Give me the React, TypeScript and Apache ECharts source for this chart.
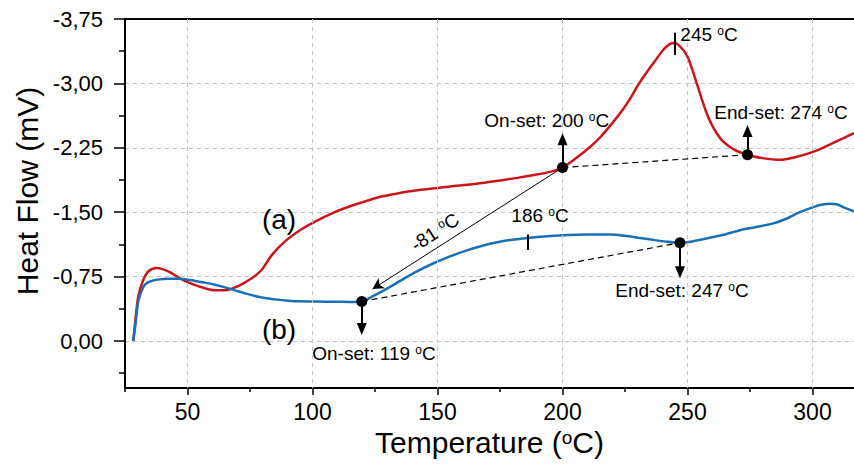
import React, { useEffect, useRef } from "react";
import * as echarts from "echarts";

// ---------- data ----------
const redCurve: [number, number][] = [
  [28.3, 0], [29, -0.2], [30.3, -0.52], [32.3, -0.71], [34.3, -0.81], [37.7, -0.85],
  [42.3, -0.81], [48.3, -0.71], [54.3, -0.64], [61, -0.59], [65, -0.59], [70.3, -0.64],
  [75.7, -0.73], [79.7, -0.83], [83.7, -1.0], [89, -1.16], [95, -1.29], [101, -1.39],
  [108, -1.49], [115, -1.57], [122, -1.635], [128, -1.685], [135, -1.725], [142, -1.755],
  [148, -1.775], [155, -1.8], [162, -1.82], [168, -1.84], [175, -1.87], [182, -1.9],
  [188, -1.93], [195, -1.97], [200, -2.02], [205, -2.12], [211, -2.26], [215, -2.37],
  [220, -2.54], [224, -2.69], [227, -2.82], [230, -2.97], [233.7, -3.13], [237, -3.26],
  [240, -3.38], [243, -3.46], [245, -3.47], [247, -3.43], [249.7, -3.33], [251.7, -3.18],
  [253.7, -3.0], [255.7, -2.82], [257.7, -2.65], [259.7, -2.52], [261.7, -2.42], [264, -2.33],
  [267, -2.26], [270, -2.21], [274, -2.17], [280, -2.13], [287, -2.11], [293, -2.14],
  [300, -2.2], [305, -2.26], [310, -2.33], [316.6, -2.42],
];

const blueCurve: [number, number][] = [
  [28.3, 0], [29.3, -0.22], [30.3, -0.46], [32.3, -0.63], [34, -0.68], [35.7, -0.7],
  [38, -0.715], [42.3, -0.725], [46.3, -0.725], [49, -0.72], [53, -0.7], [57, -0.68],
  [61, -0.655], [65, -0.625], [69, -0.59], [73, -0.555], [77, -0.525], [81, -0.5],
  [85, -0.485], [90.3, -0.47], [95, -0.462], [99.7, -0.46], [105, -0.458], [110, -0.457],
  [115, -0.455], [119.7, -0.46], [124, -0.52], [128, -0.58], [131, -0.63], [135, -0.7],
  [141, -0.8], [148, -0.9], [155, -0.985], [161.7, -1.055], [168, -1.11], [175, -1.155],
  [180, -1.18], [186, -1.2], [194, -1.22], [202, -1.235], [210, -1.24], [219, -1.24],
  [225, -1.225], [231, -1.2], [237, -1.175], [242, -1.155], [247, -1.145], [252, -1.16],
  [257.7, -1.195], [264, -1.235], [271, -1.29], [277, -1.325], [284.3, -1.37], [290, -1.43],
  [294, -1.49], [300.3, -1.56], [304, -1.59], [307, -1.6], [310, -1.59], [312.3, -1.56],
  [316.6, -1.51],
];

const xMajorTicks = [50, 100, 150, 200, 250, 300];
const xMinorTicks = [25, 75, 125, 175, 225, 275];
const yMajorTicks = [-3.75, -3, -2.25, -1.5, -0.75, 0];
const yMinorTicks = [-3.375, -2.625, -1.875, -1.125, -0.375, 0.375];

// on-set / end-set points (a: 200, 274; b: 119, 247)
const eventPoints: [number, number][] = [
  [200, -2.02], [274, -2.17], [119.7, -0.46], [247, -1.145],
];
// ends of the vertical arrows drawn from each event point
const eventArrowEnds: [number, number][] = [
  [200, -2.35], [274, -2.445], [119.7, -0.14], [247, -0.8],
];
// dashed baselines (onset -> endset)
const baselinePairs: [number, number][][] = [
  [[200, -2.02], [274, -2.17]],
  [[119.7, -0.46], [247, -1.145]],
];
// shift arrow (-81 °C): from (a) onset to (b) onset
const shiftArrow: [number, number][] = [[200, -2.02], [124.0, -0.605]];
// peak ticks (245 on a, 186 on b)
const peakTicks: [number, number][][] = [
  [[244.7, -3.59], [244.7, -3.33]],
  [[186, -1.24], [186, -1.06]],
];

const labelTexts = [
  "On-set: 200 {s|o}C",
  "End-set: 274 {s|o}C",
  "On-set: 119 {s|o}C",
  "End-set: 247 {s|o}C",
  "245 {s|o}C",
  "186 {s|o}C",
  "-81 {s|o}C",
  "(a)",
  "(b)",
];
const labelAnchors: [number, number][] = [
  [193.7, -2.57], [287.4, -2.66], [124.6, 0.14], [247.8, -0.585],
  [258.6, -3.575], [191, -1.456], [149, -1.27], [86.6, -1.41], [86.6, -0.14],
];
const labelRotations = [0, 0, 0, 0, 0, 0, 33, 0, 0];
const labelSizes = [19, 19, 19, 19, 19, 19, 19, 28, 28];

// ---------- styling ----------
const FONT = "'Liberation Sans', Arial, Helvetica, sans-serif";
const RED = "#c8161d";
const BLUE = "#1b6fb5";
const GRID = "#c4c4c4";
const XMIN = 25;
const XMAX = 316.6;
const YMIN = -3.75;
const YMAX = 0.547;

const fmtY = (v: number) => {
  if (Math.abs(v) < 1e-9) return "0,00";
  return v.toFixed(2).replace(".", ",");
};

const supRich = (fs: number) => ({
  s: {
    fontSize: Math.round(fs * 0.62),
    verticalAlign: "top",
    fontFamily: FONT,
    color: "#000",
    opacity: 1,
  },
});

function buildOption() {
  const labelData = labelTexts.map((t, i) => ({
    value: labelAnchors[i],
    label: {
      show: true,
      position: "inside",
      formatter: t,
      rotate: labelRotations[i],
      fontSize: labelSizes[i],
      fontFamily: FONT,
      color: "#000",
      opacity: 1,
      textBorderWidth: 0,
      rich: supRich(labelSizes[i]),
    },
  }));

  const solidBlack = { color: "#000", width: 2, type: "solid" };

  const markLineData: any[] = [];
  baselinePairs.forEach((p) => {
    markLineData.push([
      { coord: p[0], symbol: "none", lineStyle: { color: "#000", width: 1.2, type: [6, 4] } },
      { coord: p[1], symbol: "none" },
    ]);
  });
  eventPoints.forEach((p, i) => {
    markLineData.push([
      { coord: p, symbol: "none", lineStyle: solidBlack },
      { coord: eventArrowEnds[i], symbol: "triangle", symbolSize: [10, 12] },
    ]);
  });
  markLineData.push([
    { coord: shiftArrow[0], symbol: "none", lineStyle: { color: "#000", width: 1, type: "solid" } },
    { coord: shiftArrow[1], symbol: "arrow", symbolSize: [9, 11] },
  ]);
  peakTicks.forEach((p) => {
    markLineData.push([
      { coord: p[0], symbol: "none", lineStyle: solidBlack },
      { coord: p[1], symbol: "none" },
    ]);
  });

  return {
    animation: false,
    backgroundColor: "#fff",
    textStyle: { fontFamily: FONT },
    grid: { left: 125, right: 0, top: 19, bottom: 80, containLabel: false },
    graphic: [
      {
        type: "text",
        x: 27,
        y: 191,
        rotation: Math.PI / 2,
        style: {
          text: "Heat Flow (mV)",
          fontSize: 30,
          fontFamily: FONT,
          fill: "#000",
          align: "center",
          verticalAlign: "middle",
          textAlign: "center",
          textVerticalAlign: "middle",
        },
      },
    ],
    xAxis: [
      {
        type: "value",
        min: XMIN,
        max: XMAX,
        position: "bottom",
        axisLine: { show: true, onZero: false, lineStyle: { color: "#000", width: 2 } },
        axisTick: {
          show: true,
          inside: false,
          length: 7,
          customValues: xMajorTicks,
          lineStyle: { color: "#000", width: 1.5 },
        },
        axisLabel: {
          show: true,
          customValues: xMajorTicks,
          fontSize: 23,
          color: "#000",
          fontFamily: FONT,
          margin: 12,
        },
        splitLine: { show: false },
        name: "Temperature ({s|o}C)",
        nameLocation: "middle",
        nameGap: 30,
        nameTextStyle: {
          fontSize: 30,
          color: "#000",
          fontFamily: FONT,
          verticalAlign: "top",
          rich: supRich(30),
        },
      },
      {
        type: "value",
        min: XMIN,
        max: XMAX,
        position: "bottom",
        axisLine: { show: false, onZero: false },
        axisTick: {
          show: true,
          inside: false,
          length: 4,
          customValues: xMinorTicks,
          lineStyle: { color: "#000", width: 1.5 },
        },
        axisLabel: { show: false },
        splitLine: { show: false },
      },
      {
        type: "value",
        min: XMIN,
        max: XMAX,
        position: "top",
        axisLine: { show: true, onZero: false, lineStyle: { color: "#000", width: 2 } },
        axisTick: { show: false },
        axisLabel: { show: false },
        splitLine: { show: false },
      },
    ],
    yAxis: [
      {
        type: "value",
        inverse: true,
        min: YMIN,
        max: YMAX,
        interval: 0.75,
        position: "left",
        axisLine: { show: true, onZero: false, lineStyle: { color: "#000", width: 2 } },
        axisTick: {
          show: true,
          inside: false,
          length: 11,
          customValues: yMajorTicks,
          lineStyle: { color: "#000", width: 1.5 },
        },
        axisLabel: {
          show: true,
          customValues: yMajorTicks,
          formatter: fmtY,
          fontSize: 22,
          color: "#000",
          fontFamily: FONT,
          margin: 22,
        },
        splitLine: { show: true, lineStyle: { color: GRID, width: 1, type: [4, 4] } },
      },
      {
        type: "value",
        inverse: true,
        min: YMIN,
        max: YMAX,
        position: "left",
        axisLine: { show: false, onZero: false },
        axisTick: {
          show: true,
          inside: false,
          length: 6,
          customValues: yMinorTicks,
          lineStyle: { color: "#000", width: 1.5 },
        },
        axisLabel: { show: false },
        splitLine: { show: false },
      },
    ],
    series: [
      {
        type: "line",
        name: "grid",
        data: [],
        z: 1,
        silent: true,
        markLine: {
          silent: true,
          symbol: "none",
          label: { show: false },
          lineStyle: { color: GRID, width: 1, type: [4, 4] },
          data: xMajorTicks.map((x) => ({ xAxis: x })),
        },
      },
      {
        type: "line",
        name: "(a)",
        data: redCurve,
        showSymbol: false,
        smooth: 0.3,
        z: 3,
        lineStyle: { color: RED, width: 2.5 },
        itemStyle: { color: RED },
      },
      {
        type: "line",
        name: "(b)",
        data: blueCurve,
        showSymbol: false,
        smooth: 0.3,
        z: 3,
        lineStyle: { color: BLUE, width: 2.5 },
        itemStyle: { color: BLUE },
      },
      {
        type: "scatter",
        name: "events",
        data: eventPoints,
        symbolSize: 11,
        z: 6,
        itemStyle: { color: "#000", opacity: 1 },
        markLine: {
          silent: true,
          symbol: "none",
          label: { show: false },
          data: markLineData,
        },
      },
      {
        type: "scatter",
        name: "labels",
        data: labelData,
        symbolSize: 0,
        z: 7,
        silent: true,
        itemStyle: { color: "#000", opacity: 1 },
      },
    ],
  };
}

export default function App() {
  const ref = useRef<HTMLDivElement>(null);
  useEffect(() => {
    if (!ref.current) return;
    const chart = echarts.init(ref.current, null, { renderer: "svg" });
    chart.setOption(buildOption() as any);
    return () => chart.dispose();
  }, []);
  return (
    <div
      ref={ref}
      style={{ position: "fixed", left: 0, top: 0, width: 854, height: 468, background: "#fff" }}
    />
  );
}
